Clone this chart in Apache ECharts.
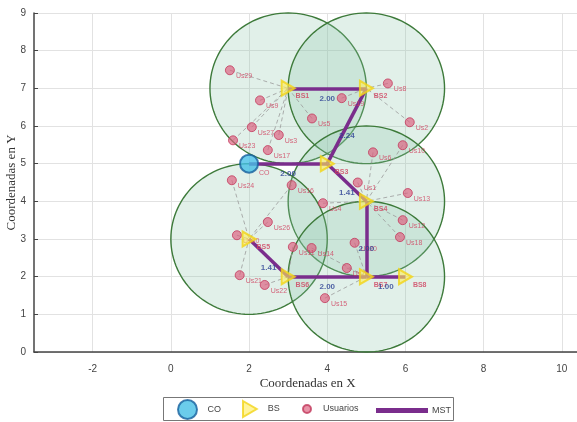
<!DOCTYPE html>
<html lang="es">
<head>
<meta charset="UTF-8">
<title>MST</title>
<style>
  html, body { margin: 0; padding: 0; background: #fff; }
  #main { width: 577px; height: 422px; }
</style>
<script src="https://cdn.jsdelivr.net/npm/echarts@6/dist/echarts.min.js"></script>
</head>
<body>
<div id="main"></div>
<script>
// nodes
const coNode = [2, 5];
const bsNodes = [[3, 7], [5, 7], [4, 5], [5, 4], [2, 3], [3, 2], [5, 2], [6, 2]];
const bsNames = ['BS1', 'BS2', 'BS3', 'BS4', 'BS5', 'BS6', 'BS7', 'BS8'];
const coverageBs = [0, 1, 3, 4, 6];   // BS that have a coverage circle
const coverageRadius = 2;

// users (position + BS they hang from)
const userX = [1.51, 2.28, 3.61, 2.07, 2.76, 2.48, 1.59, 1.56, 3.09, 5.17, 4.78, 5.55, 6.11, 5.93,
  6.06, 5.93, 5.86, 2.48, 1.69, 3.12, 3.60, 4.70, 4.50, 1.76, 2.40, 3.94, 3.89, 4.37];
const userY = [7.48, 6.68, 6.20, 5.97, 5.76, 5.36, 5.62, 4.56, 4.43, 5.30, 4.50, 7.13, 6.10, 5.49,
  4.22, 3.50, 3.05, 3.45, 3.10, 2.79, 2.76, 2.90, 2.23, 2.04, 1.78, 1.43, 3.95, 6.74];
const userBs = [0, 0, 0, 0, 0, 0, 0, 4, 4, 3, 3, 1, 1, 3, 3, 3, 3, 4, 4, 5, 6, 6, 6, 4, 5, 6, 3, 1];
const userNames = ['Us29', 'Us9', 'Us5', 'Us27', 'Us3', 'Us17', 'Us23', 'Us24', 'Us16', 'Us6', 'Us1',
  'Us8', 'Us2', 'Us10', 'Us13', 'Us12', 'Us18', 'Us26', 'Us30', 'Us11', 'Us14', 'Us20', 'Us7',
  'Us21', 'Us22', 'Us15', 'Us4', 'Us19'];

// MST edges: -1 = CO, otherwise BS index
const mstFrom = [-1, 2, 0, 2, 3, 6, 5, 6];
const mstTo = [2, 1, 1, 3, 6, 5, 4, 7];
const mstWeights = ['2.00', '2.24', '2.00', '1.41', '2.00', '2.00', '1.41', '1.00'];

const nodeAt = (i) => (i < 0 ? coNode : bsNodes[i]);

const chart = echarts.init(document.getElementById('main'));

const option = {
  animation: false,
  grid: { left: 34, top: 13, width: 547.4, height: 339, outerBoundsMode: 'none', containLabel: false },
  xAxis: {
    type: 'value', min: -3.5, max: 10.5, interval: 0.5,
    name: 'Coordenadas en X', nameLocation: 'middle', nameGap: 25, nameMoveOverlap: false,
    nameTextStyle: { fontFamily: 'Liberation Serif', fontSize: 13, color: '#333' },
    axisLine: { onZero: false, lineStyle: { color: '#444', width: 1.5 } },
    axisTick: { show: false },
    axisLabel: {
      fontFamily: 'Liberation Sans', fontSize: 10, color: '#444', margin: 12,
      formatter: (v) => (Math.abs(v % 2) < 1e-9 ? String(v) : '')
    },
    splitLine: { show: true, lineStyle: { color: ['transparent', 'transparent', 'transparent', '#e2e2e2'] } }
  },
  yAxis: {
    type: 'value', min: 0, max: 9, interval: 1,
    name: 'Coordenadas en Y', nameLocation: 'middle', nameGap: 16, nameMoveOverlap: false,
    nameTextStyle: { fontFamily: 'Liberation Serif', fontSize: 13, color: '#333' },
    axisLine: { show: true, onZero: false, lineStyle: { color: '#444', width: 1.5 } },
    axisTick: { show: true, inside: true, length: 4, lineStyle: { color: '#444' } },
    axisLabel: { fontFamily: 'Liberation Sans', fontSize: 10, color: '#444', margin: 8 },
    splitLine: { lineStyle: { color: '#e2e2e2' } }
  },
  legend: [
    { data: [{ name: 'CO', icon: 'circle' }], left: 177, top: 399, itemWidth: 30, itemHeight: 19, itemGap: 0 },
    { data: [{ name: 'BS', icon: 'path://M0,0L12,7L0,14Z' }], left: 242, top: 400, itemWidth: 26, itemHeight: 16 },
    { data: [{ name: 'Usuarios', icon: 'circle' }], left: 302, top: 404, itemWidth: 22, itemHeight: 8 },
    { data: [{ name: 'MST', icon: 'rect' }], left: 376, top: 406, itemWidth: 50, itemHeight: 3 }
  ].map(l => Object.assign(l, {
    orient: 'horizontal', padding: 0,
    textStyle: { fontFamily: 'Liberation Sans', fontSize: 9, color: '#444' }
  })),
  graphic: [{
    type: 'rect', left: 163, top: 397, z: -1,
    shape: { width: 290, height: 23 },
    style: { fill: '#fff', stroke: '#777', lineWidth: 1 }
  }],
  series: [
    {
      name: 'coverage', type: 'custom', z: 1, silent: true,
      data: coverageBs.map(i => bsNodes[i]),
      encode: { x: 0, y: 1 },
      renderItem: (params, api) => {
        const cx = api.value(0), cy = api.value(1);
        const pts = [];
        for (let k = 0; k < 120; k++) {
          const t = k / 120 * 2 * Math.PI;
          pts.push(api.coord([cx + coverageRadius * Math.cos(t), cy + coverageRadius * Math.sin(t)]));
        }
        return {
          type: 'polygon', shape: { points: pts },
          style: { fill: 'rgba(140,196,170,0.26)', stroke: '#3d7a3a', lineWidth: 1.4 }
        };
      }
    },
    {
      name: 'links', type: 'lines', coordinateSystem: 'cartesian2d', z: 2, silent: true,
      lineStyle: { color: '#9a9a9a', width: 0.8, type: [4, 3], opacity: 1 },
      data: userX.map((x, i) => ({ coords: [[x, userY[i]], bsNodes[userBs[i]]] }))
    },
    {
      name: 'MST', type: 'lines', coordinateSystem: 'cartesian2d', z: 3,
      itemStyle: { color: '#7a2d8c' },
      lineStyle: { color: '#7a2d8c', width: 3.5, opacity: 1 },
      data: mstFrom.map((f, i) => ({ coords: [nodeAt(f), nodeAt(mstTo[i])] }))
    },
    {
      name: 'weights', type: 'scatter', z: 6, symbolSize: 0, silent: true,
      data: mstFrom.map((f, i) => {
        const a = nodeAt(f), b = nodeAt(mstTo[i]);
        return { value: [(a[0] + b[0]) / 2, (a[1] + b[1]) / 2], name: mstWeights[i] };
      }),
      label: {
        show: true, position: 'bottom', distance: 6, formatter: '{b}',
        fontFamily: 'Liberation Sans', fontSize: 8, fontWeight: 'bold', color: '#2b3f93'
      }
    },
    {
      name: 'Usuarios', type: 'scatter', z: 4, symbol: 'circle', symbolSize: 9,
      itemStyle: { color: 'rgba(222,96,128,0.85)', borderColor: '#c23a5c', borderWidth: 1 },
      data: userX.map((x, i) => ({ value: [x, userY[i]], name: userNames[i] })),
      label: {
        show: true, position: 'right', distance: 1, offset: [0, 6], formatter: '{b}',
        fontFamily: 'Liberation Sans', fontSize: 7, color: '#d0405e'
      }
    },
    {
      name: 'BS', type: 'scatter', z: 5, symbol: 'path://M0,0L12,7L0,14Z', symbolSize: [13, 15],
      itemStyle: { color: 'rgba(255,236,90,0.75)', borderColor: '#f3d418', borderWidth: 2 },
      data: bsNodes.map((p, i) => ({ value: p, name: bsNames[i] })),
      label: {
        show: true, position: 'right', distance: 0, offset: [0, 8], formatter: '{b}',
        fontFamily: 'Liberation Sans', fontSize: 7, fontWeight: 'bold', color: '#d0405e'
      }
    },
    {
      name: 'CO', type: 'scatter', z: 5, symbol: 'circle', symbolSize: 18,
      itemStyle: { color: '#46bfe6', borderColor: '#17609e', borderWidth: 2 },
      data: [{ value: coNode, name: 'CO' }],
      label: {
        show: true, position: 'right', distance: 0, offset: [0, 9], formatter: '{b}',
        fontFamily: 'Liberation Sans', fontSize: 7, color: '#d0405e'
      }
    }
  ]
};

chart.setOption(option);
</script>
</body>
</html>
